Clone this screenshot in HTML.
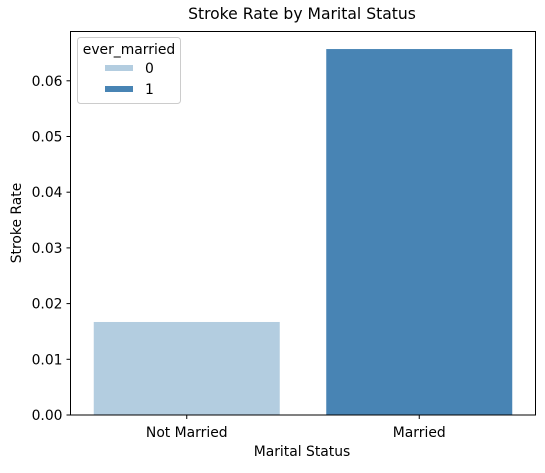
<!DOCTYPE html>
<html><head><meta charset="utf-8"><style>
body{margin:0;background:#fff;font-family:"Liberation Sans","DejaVu Sans",sans-serif}
svg text{font-family:"DejaVu Sans","Liberation Sans",sans-serif}
</style></head><body>
<svg id="chart" width="545" height="468" xmlns="http://www.w3.org/2000/svg">
<text x="302" y="19" font-size="15.6" text-anchor="middle">Stroke Rate by Marital Status</text>
<g id="bars"></g><g id="yaxis"></g><g id="xaxis"></g>
<rect x="70.5" y="31.5" width="465" height="383.5" fill="none" stroke="#000" stroke-width="1"/>
<text x="302" y="456" font-size="13.9" text-anchor="middle">Marital Status</text>
<text transform="translate(21,223) rotate(-90)" font-size="13.9" text-anchor="middle">Stroke Rate</text>
<g>
<rect x="77.5" y="37.5" width="103" height="66" rx="3" fill="#fff" fill-opacity="0.8" stroke="#ccc"/>
<text x="129" y="54" font-size="13.9" text-anchor="middle">ever_married</text>
<rect x="105" y="65" width="28" height="6" fill="#b3cde0"/>
<text x="145" y="73" font-size="13.9">0</text>
<rect x="105" y="86" width="28" height="6" fill="#4884b4"/>
<text x="145" y="94" font-size="13.9">1</text>
</g>
</svg>
<script>
const categories=["Not Married","Married"];
const strokeRates=[0.0167,0.0657];
const barColors=["#b3cde0","#4884b4"];
const yTicks=[0,0.01,0.02,0.03,0.04,0.05,0.06];
const yTickLabels=["0.00","0.01","0.02","0.03","0.04","0.05","0.06"];
const NS="http://www.w3.org/2000/svg";
const y0=415,pxPer=5570,left=70.5,right=535.5;
function yScale(v){return y0-v*pxPer;}
function xCenter(i){return left+(right-left)*(i+0.5)/categories.length;}
const bw=(right-left)/categories.length*0.8;
function mk(t,a,p){const e=document.createElementNS(NS,t);for(const k in a)e.setAttribute(k,a[k]);p.appendChild(e);return e;}
const bars=document.getElementById('bars'),ya=document.getElementById('yaxis'),xa=document.getElementById('xaxis');
strokeRates.forEach((v,i)=>{
 const r=mk('rect',{x:xCenter(i)-bw/2,y:yScale(v),width:bw,height:y0-yScale(v),fill:barColors[i]},bars);
 
 
 const tk=mk('line',{x1:xCenter(i),x2:xCenter(i),y1:y0,y2:y0+4,stroke:'#000'},xa);
 
 
 const t=mk('text',{x:xCenter(i),y:y0+22,'font-size':13.9,'text-anchor':'middle'},xa);
 t.textContent=categories[i];
 
 
});
yTicks.forEach((v,i)=>{
 const yy=yScale(v);
 const tk=mk('line',{x1:left-4,x2:left,y1:yy,y2:yy,stroke:'#000'},ya);
 
 
 const t=mk('text',{x:left-8,y:yy+5,'font-size':13.9,'text-anchor':'end'},ya);
 t.textContent=yTickLabels[i];
 
 
});
</script>
</body></html>
